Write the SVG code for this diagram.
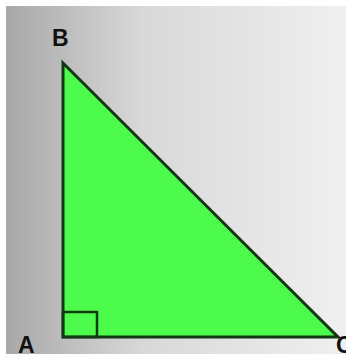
<svg xmlns="http://www.w3.org/2000/svg" width="346" height="354" viewBox="0 0 346 354">
<defs>
<linearGradient id="bg" x1="0" y1="0" x2="1" y2="0">
<stop offset="0" stop-color="#a8a8a8"/>
<stop offset="0.4" stop-color="#d8d8d8"/>
<stop offset="1" stop-color="#f0f0f0"/>
</linearGradient>
<style>
.lbl{font-family:"Liberation Sans",Arial,sans-serif;font-weight:bold;font-size:23px;fill:#111}
.tri{fill:#4cfb4c;stroke:#123812;stroke-width:3;stroke-linejoin:miter}
.sq{fill:none;stroke:#123812;stroke-width:2.5}
</style>
</defs>
<rect width="346" height="354" fill="#ffffff"/>
<rect x="6" y="6" width="340" height="348" fill="url(#bg)"/>
<g id="triangle">
<polygon class="tri" points="63,63 63,337 338,337"/>
<rect class="sq" x="63" y="312" width="34" height="25"/>
</g>
<g id="labels">
<text class="lbl" x="52" y="46">B</text>
<text class="lbl" x="18" y="353">A</text>
<text class="lbl" x="336" y="353">C</text>
</g>
</svg>
